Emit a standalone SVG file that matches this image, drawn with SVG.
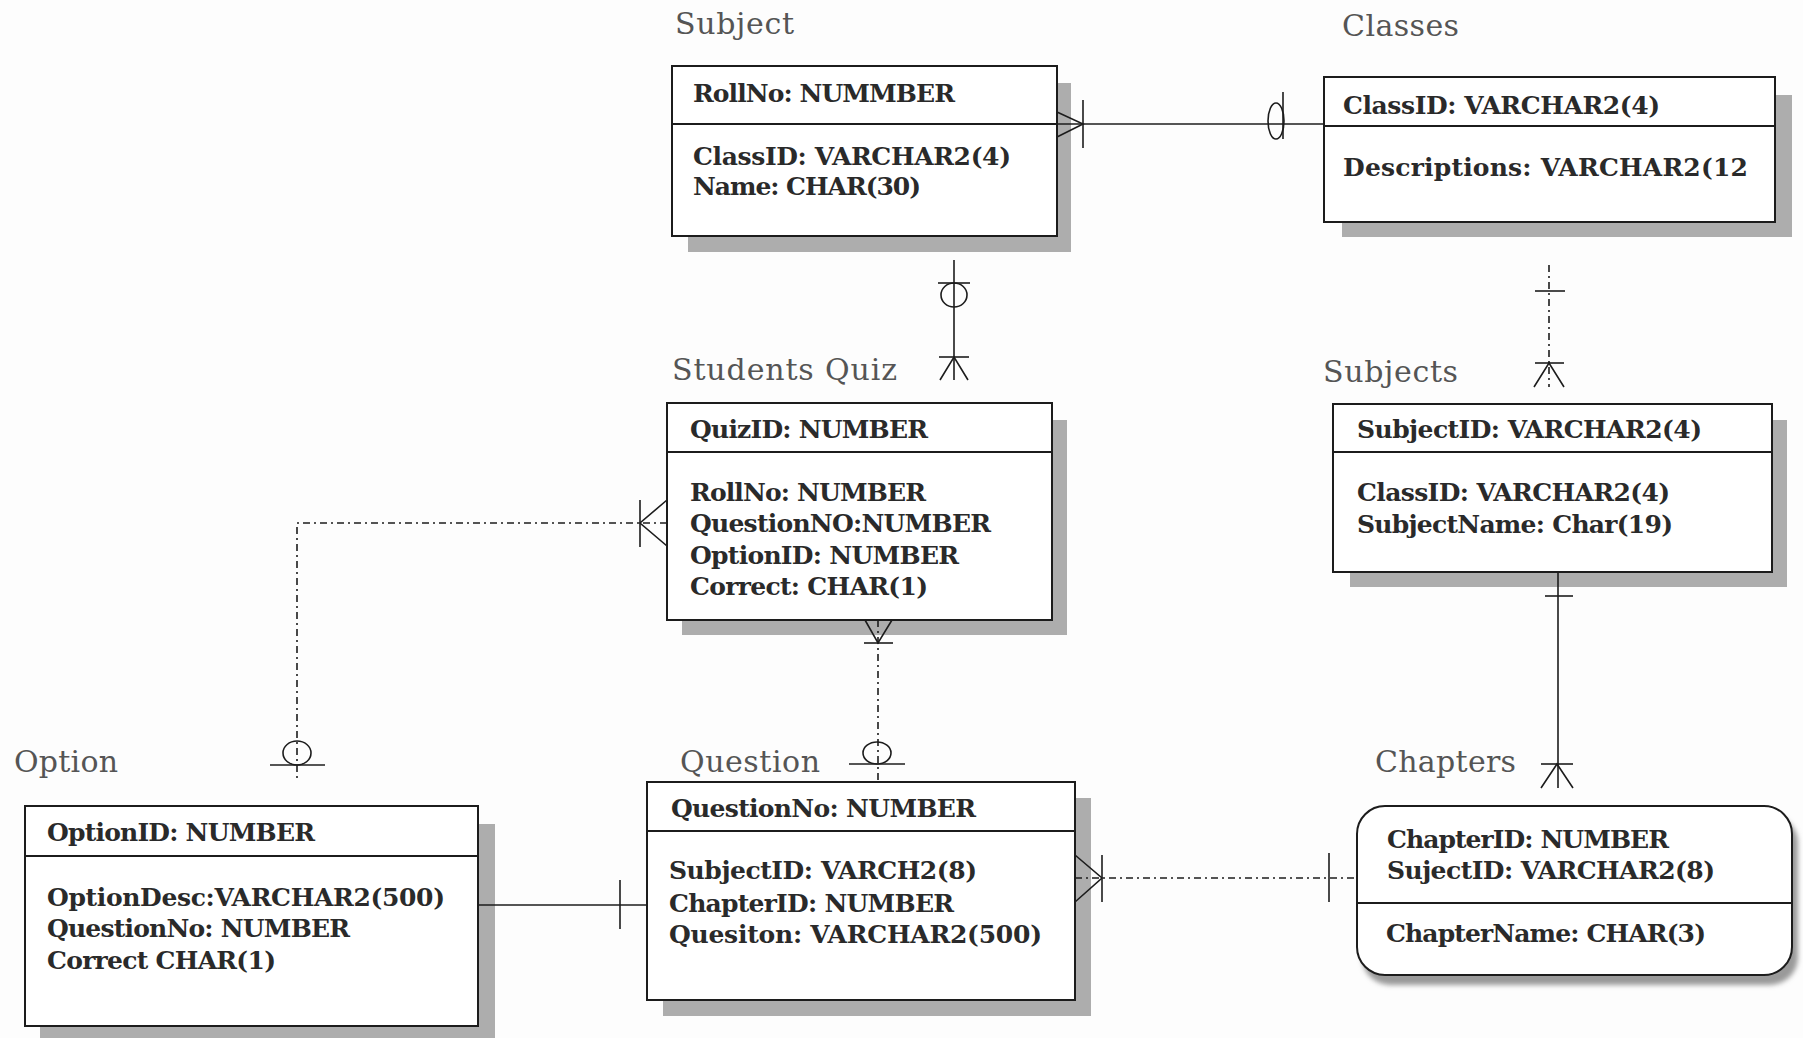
<svg xmlns="http://www.w3.org/2000/svg" width="1803" height="1038" viewBox="0 0 1803 1038">
  <defs>
    <style>
      .bg { fill: #fdfdfd; }
      .shadow { fill: #adadad; }
      .box { fill: #ffffff; stroke: #1c1c1c; stroke-width: 2; }
      .divider { stroke: #1c1c1c; stroke-width: 1.8; }
      .title { font-family: "DejaVu Serif", serif; font-size: 30px; fill: #555555; }
      .field { font-family: "DejaVu Serif", serif; font-weight: bold; font-size: 25px; fill: #2a2a2a; }
      .ln { stroke: #1c1c1c; stroke-width: 1.6; fill: none; }
      .dd { stroke-dasharray: 7 4 2 4; }
    </style>
    <filter id="softShadow" x="-10%" y="-10%" width="130%" height="140%">
      <feGaussianBlur stdDeviation="2.5"/>
    </filter>
  </defs>

  <rect class="bg" x="0" y="0" width="1803" height="1038"/>

  <!-- Subject entity -->
  <g id="subject">
    <text class="title" x="675" y="34" textLength="119">Subject</text>
    <rect class="shadow" x="688" y="83" width="383" height="169"/>
    <rect class="box" x="672" y="66" width="385" height="170"/>
    <line class="divider" x1="672" y1="124" x2="1057" y2="124"/>
    <text class="field" x="693" y="102" textLength="262">RollNo: NUMMBER</text>
    <text class="field" x="693" y="165" textLength="318">ClassID: VARCHAR2(4)</text>
    <text class="field" x="693" y="195" textLength="228">Name: CHAR(30)</text>
  </g>

  <!-- Classes entity -->
  <g id="classes">
    <text class="title" x="1342" y="36" textLength="117">Classes</text>
    <rect class="shadow" x="1342" y="95" width="450" height="142"/>
    <rect class="box" x="1324" y="77" width="451" height="145"/>
    <line class="divider" x1="1324" y1="126" x2="1775" y2="126"/>
    <text class="field" x="1343" y="114" textLength="317">ClassID: VARCHAR2(4)</text>
    <text class="field" x="1343" y="176" textLength="405">Descriptions: VARCHAR2(12</text>
  </g>

  <!-- Students Quiz entity -->
  <g id="students-quiz">
    <text class="title" x="672" y="380" textLength="225">Students Quiz</text>
    <rect class="shadow" x="682" y="420" width="385" height="215"/>
    <rect class="box" x="667" y="403" width="385" height="217"/>
    <line class="divider" x1="667" y1="452" x2="1052" y2="452"/>
    <text class="field" x="690" y="438" textLength="238">QuizID: NUMBER</text>
    <text class="field" x="690" y="501" textLength="236">RollNo: NUMBER</text>
    <text class="field" x="690" y="532" textLength="301">QuestionNO:NUMBER</text>
    <text class="field" x="690" y="564" textLength="269">OptionID: NUMBER</text>
    <text class="field" x="690" y="595" textLength="238">Correct: CHAR(1)</text>
  </g>

  <!-- Subjects entity -->
  <g id="subjects">
    <text class="title" x="1323" y="382" textLength="135">Subjects</text>
    <rect class="shadow" x="1350" y="420" width="437" height="167"/>
    <rect class="box" x="1333" y="404" width="439" height="168"/>
    <line class="divider" x1="1333" y1="452" x2="1772" y2="452"/>
    <text class="field" x="1357" y="438" textLength="345">SubjectID: VARCHAR2(4)</text>
    <text class="field" x="1357" y="501" textLength="313">ClassID: VARCHAR2(4)</text>
    <text class="field" x="1357" y="533" textLength="316">SubjectName: Char(19)</text>
  </g>

  <!-- Option entity -->
  <g id="option">
    <text class="title" x="14" y="772" textLength="104">Option</text>
    <rect class="shadow" x="40" y="824" width="455" height="220"/>
    <rect class="box" x="25" y="806" width="453" height="220"/>
    <line class="divider" x1="25" y1="856" x2="478" y2="856"/>
    <text class="field" x="47" y="841" textLength="268">OptionID: NUMBER</text>
    <text class="field" x="47" y="906" textLength="398">OptionDesc:VARCHAR2(500)</text>
    <text class="field" x="47" y="937" textLength="303">QuestionNo: NUMBER</text>
    <text class="field" x="47" y="969" textLength="229">Correct CHAR(1)</text>
  </g>

  <!-- Question entity -->
  <g id="question">
    <text class="title" x="680" y="772" textLength="140">Question</text>
    <rect class="shadow" x="663" y="798" width="428" height="218"/>
    <rect class="box" x="647" y="782" width="428" height="218"/>
    <line class="divider" x1="647" y1="831" x2="1075" y2="831"/>
    <text class="field" x="671" y="817" textLength="305">QuestionNo: NUMBER</text>
    <text class="field" x="669" y="879" textLength="308">SubjectID: VARCH2(8)</text>
    <text class="field" x="669" y="912" textLength="285">ChapterID: NUMBER</text>
    <text class="field" x="669" y="943" textLength="373">Quesiton: VARCHAR2(500)</text>
  </g>

  <!-- Chapters entity (rounded) -->
  <g id="chapters">
    <text class="title" x="1375" y="772" textLength="141">Chapters</text>
    <rect x="1362" y="815" width="436" height="170" rx="28" fill="#9a9a9a" filter="url(#softShadow)"/>
    <rect class="box" x="1357" y="806" width="435" height="169" rx="28"/>
    <line class="divider" x1="1357" y1="903" x2="1792" y2="903"/>
    <text class="field" x="1387" y="848" textLength="282">ChapterID: NUMBER</text>
    <text class="field" x="1387" y="879" textLength="328">SujectID: VARCHAR2(8)</text>
    <text class="field" x="1386" y="942" textLength="320">ChapterName: CHAR(3)</text>
  </g>

  <!-- Relationship lines with crow's-foot ends -->
  <g id="connectors">
    <!-- Subject to Classes -->
    <line class="ln" x1="1057" y1="124" x2="1324" y2="124"/>
    <polyline class="ln" points="1057,112 1083,124 1057,137"/>
    <line class="ln" x1="1083" y1="100" x2="1083" y2="148"/>
    <ellipse class="ln" cx="1276" cy="121" rx="8" ry="18"/>
    <line class="ln" x1="1283" y1="92" x2="1283" y2="139"/>

    <!-- Subject to Students Quiz -->
    <line class="ln" x1="954" y1="260" x2="954" y2="380"/>
    <line class="ln" x1="938" y1="283" x2="970" y2="283"/>
    <ellipse class="ln" cx="954" cy="295" rx="13" ry="12"/>
    <line class="ln" x1="939" y1="357" x2="969" y2="357"/>
    <polyline class="ln" points="940,380 954,357 968,380"/>

    <!-- Classes to Subjects -->
    <line class="ln dd" x1="1549" y1="265" x2="1549" y2="387"/>
    <line class="ln" x1="1535" y1="291" x2="1565" y2="291"/>
    <line class="ln" x1="1535" y1="363" x2="1564" y2="363"/>
    <polyline class="ln" points="1534,387 1549,363 1564,387"/>

    <!-- Students Quiz to Option -->
    <path class="ln dd" d="M667,523 H297 V782"/>
    <polyline class="ln" points="667,500 640,523 667,546"/>
    <line class="ln" x1="640" y1="500" x2="640" y2="547"/>
    <ellipse class="ln" cx="297" cy="753" rx="14" ry="12"/>
    <line class="ln" x1="270" y1="765" x2="325" y2="765"/>

    <!-- Students Quiz to Question -->
    <line class="ln dd" x1="878" y1="620" x2="878" y2="782"/>
    <polyline class="ln" points="865,620 878,643 892,620"/>
    <line class="ln" x1="864" y1="643" x2="893" y2="643"/>
    <ellipse class="ln" cx="877" cy="753" rx="14" ry="11"/>
    <line class="ln" x1="849" y1="764" x2="905" y2="764"/>

    <!-- Option to Question -->
    <line class="ln" x1="478" y1="905" x2="647" y2="905"/>
    <line class="ln" x1="620" y1="880" x2="620" y2="929"/>

    <!-- Question to Chapters -->
    <line class="ln dd" x1="1075" y1="878" x2="1357" y2="878"/>
    <polyline class="ln" points="1075,855 1102,878 1075,902"/>
    <line class="ln" x1="1102" y1="855" x2="1102" y2="902"/>
    <line class="ln" x1="1329" y1="853" x2="1329" y2="902"/>

    <!-- Subjects to Chapters -->
    <line class="ln" x1="1558" y1="572" x2="1558" y2="788"/>
    <line class="ln" x1="1545" y1="596" x2="1573" y2="596"/>
    <line class="ln" x1="1541" y1="764" x2="1573" y2="764"/>
    <polyline class="ln" points="1541,788 1557,764 1573,788"/>
  </g>
</svg>
